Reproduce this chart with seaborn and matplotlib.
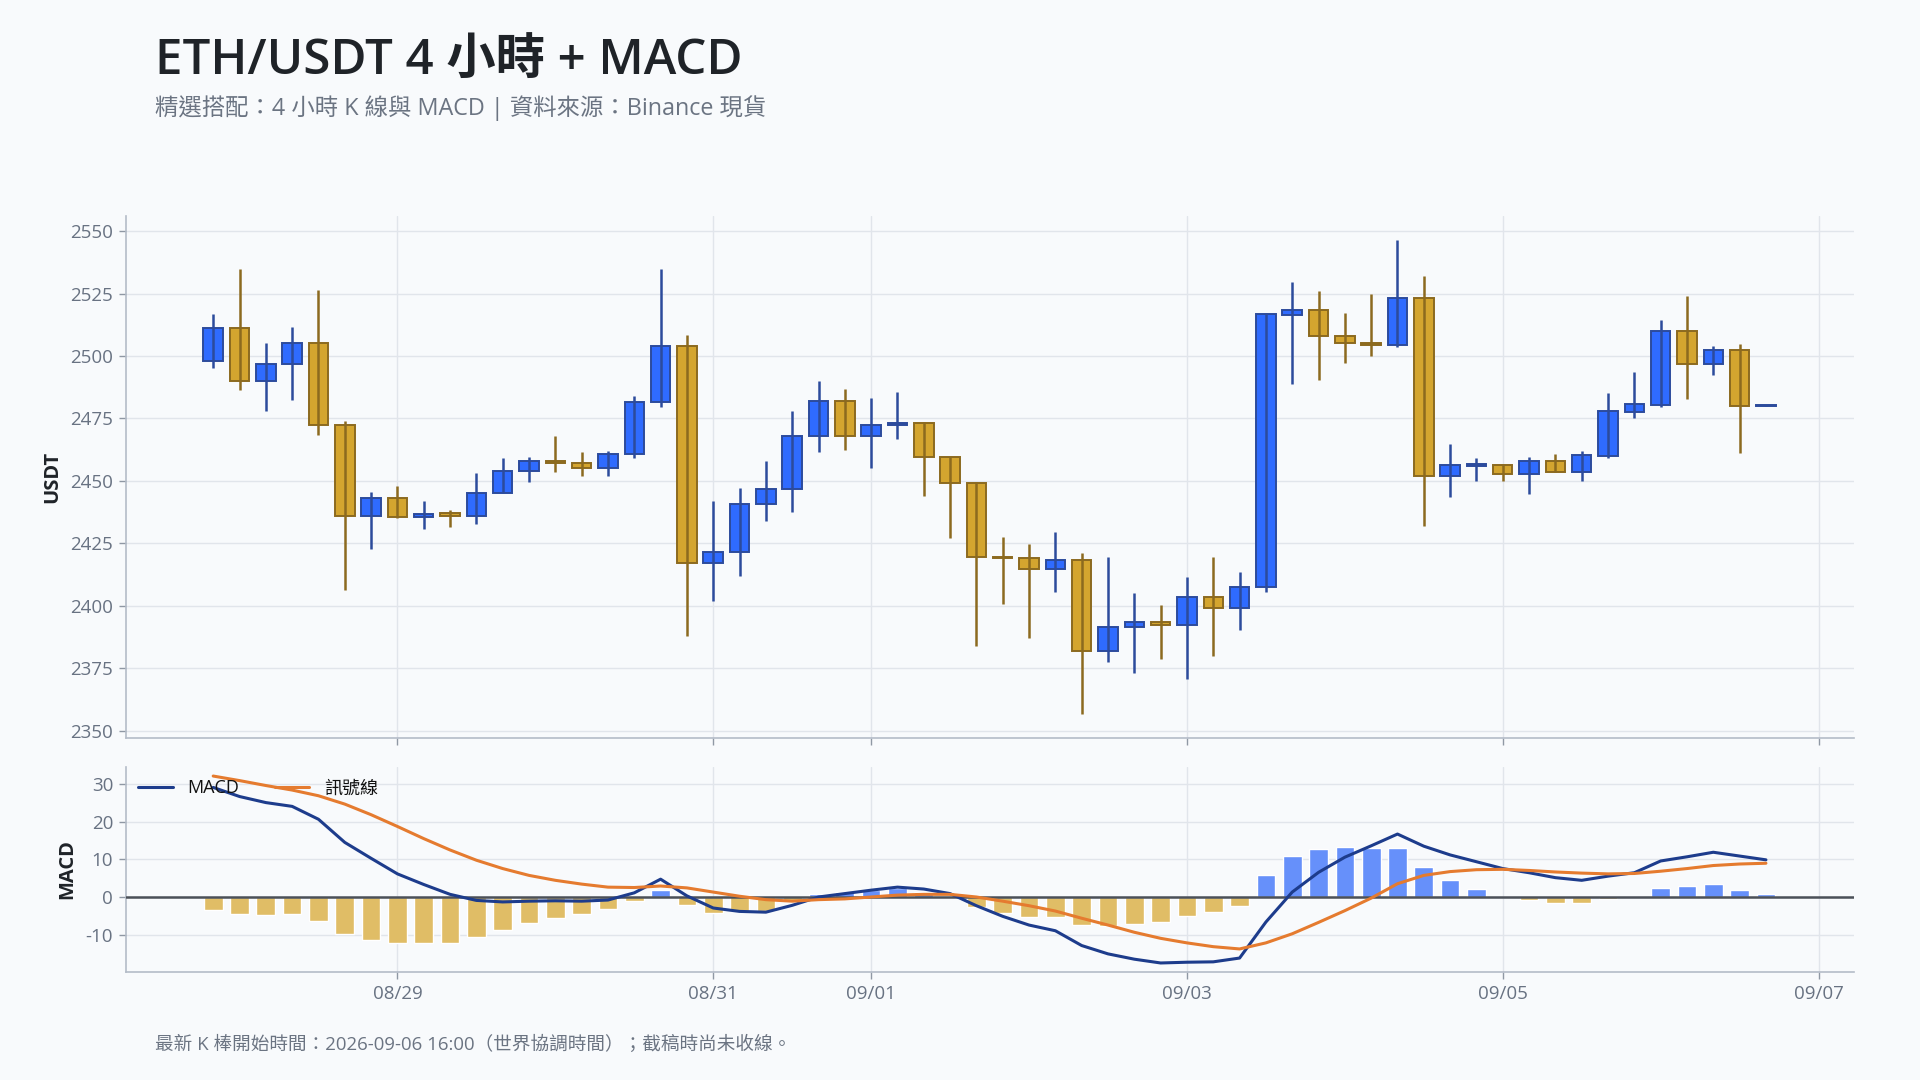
import matplotlib
matplotlib.use('Agg')
import matplotlib.pyplot as plt
import matplotlib.dates as mdates
import seaborn as sns
import pandas as pd

start = '2026-08-27 20:00'

opens = [2498.1, 2511.1, 2490.1, 2496.7, 2505.4, 2472.2, 2435.9, 2443.3, 2435.4, 2437.0,
         2436.1, 2445.1, 2453.9, 2457.9, 2457.3, 2455.3, 2460.7, 2481.4, 2504.0, 2417.0,
         2421.4, 2440.7, 2446.7, 2468.0, 2481.9, 2467.9, 2472.3, 2473.1, 2459.4, 2449.0,
         2419.6, 2419.1, 2414.6, 2418.3, 2382.0, 2391.4, 2393.4, 2392.1, 2403.6, 2399.0,
         2407.3, 2516.6, 2518.3, 2508.0, 2505.4, 2504.4, 2523.1, 2452.1, 2456.1, 2456.3,
         2452.6, 2457.9, 2453.7, 2460.0, 2477.7, 2480.4, 2509.9, 2496.9, 2502.3, 2480.0]
highs = [2516.9, 2535.0, 2505.4, 2511.7, 2526.6, 2474.1, 2445.4, 2448.1, 2442.1, 2438.4,
         2453.0, 2459.0, 2459.7, 2468.1, 2461.7, 2462.1, 2484.1, 2535.0, 2508.6, 2442.1,
         2447.0, 2458.1, 2478.1, 2490.1, 2487.0, 2483.0, 2485.7, 2473.7, 2459.6, 2449.7,
         2427.4, 2424.6, 2429.4, 2421.0, 2419.7, 2405.0, 2400.1, 2411.4, 2419.7, 2413.4,
         2517.4, 2529.7, 2526.1, 2517.4, 2525.0, 2546.6, 2532.1, 2464.6, 2459.0, 2456.3,
         2459.4, 2460.6, 2462.1, 2485.4, 2493.7, 2514.6, 2524.1, 2504.1, 2505.0, 2480.3]
lows = [2495.1, 2486.3, 2477.9, 2482.3, 2468.3, 2406.3, 2422.6, 2435.0, 2430.7, 2431.6,
        2432.6, 2445.0, 2449.6, 2453.6, 2451.9, 2452.1, 2459.0, 2479.6, 2387.9, 2401.9,
        2411.9, 2433.9, 2437.6, 2461.6, 2462.3, 2455.1, 2466.7, 2443.9, 2427.1, 2384.0,
        2400.7, 2387.1, 2405.3, 2356.7, 2377.6, 2373.1, 2378.6, 2370.7, 2379.9, 2390.3,
        2405.6, 2488.7, 2490.3, 2497.1, 2500.1, 2503.6, 2431.9, 2443.6, 2450.1, 2450.1,
        2444.7, 2453.7, 2450.1, 2459.1, 2475.1, 2479.6, 2482.7, 2492.3, 2461.1, 2479.9]
closes = [2511.1, 2490.1, 2496.7, 2505.4, 2472.2, 2435.9, 2443.3, 2435.4, 2436.9, 2436.1,
          2445.1, 2453.9, 2457.9, 2457.3, 2455.3, 2460.7, 2481.4, 2504.0, 2417.0, 2421.4,
          2440.7, 2446.7, 2468.0, 2481.9, 2467.9, 2472.3, 2473.1, 2459.4, 2449.0, 2419.4,
          2419.3, 2414.6, 2418.3, 2382.0, 2391.6, 2393.6, 2392.1, 2403.6, 2399.0, 2407.6,
          2516.9, 2518.3, 2507.9, 2505.4, 2504.6, 2523.1, 2452.1, 2456.3, 2456.9, 2452.6,
          2457.9, 2453.7, 2460.3, 2477.9, 2480.9, 2509.9, 2496.9, 2502.3, 2479.9, 2480.2]

macd = [29.0, 26.6, 25.0, 24.0, 20.6, 14.5, 10.3, 6.2, 3.4, 0.8,
        -0.8, -1.2, -1.0, -0.9, -1.0, -0.7, 1.2, 4.8, 0.4, -2.8,
        -3.7, -3.9, -2.1, 0.1, 1.0, 1.9, 2.7, 2.2, 1.0, -2.2,
        -5.0, -7.3, -8.8, -12.7, -14.9, -16.3, -17.3, -17.1, -17.0, -16.0,
        -6.5, 1.4, 6.6, 10.6, 13.6, 16.7, 13.5, 11.2, 9.4, 7.6,
        6.5, 5.2, 4.5, 5.6, 6.5, 9.6, 10.7, 11.9, 10.9, 9.9]
signal = [32.0, 30.8, 29.5, 28.3, 26.8, 24.6, 21.8, 18.7, 15.5, 12.5,
          9.8, 7.6, 5.8, 4.5, 3.5, 2.7, 2.6, 3.0, 2.5, 1.4,
          0.3, -0.6, -1.0, -0.6, -0.4, 0.1, 0.6, 0.8, 0.8, 0.1,
          -1.0, -2.2, -3.6, -5.5, -7.3, -9.2, -10.8, -12.0, -13.0, -13.6,
          -12.0, -9.6, -6.6, -3.5, -0.2, 3.6, 5.8, 6.8, 7.3, 7.4,
          7.1, 6.7, 6.4, 6.2, 6.3, 6.9, 7.6, 8.4, 8.8, 9.0]
hist = [-3.2, -4.4, -4.7, -4.4, -6.3, -9.7, -11.3, -12.1, -12.1, -11.9,
        -10.5, -8.7, -6.8, -5.5, -4.4, -3.1, -1.0, 1.9, -2.0, -4.2,
        -3.5, -3.6, -0.9, 0.8, 1.3, 1.9, 2.6, 1.4, 0.2, -2.6,
        -4.2, -5.2, -5.2, -7.3, -7.6, -7.1, -6.5, -5.0, -3.9, -2.3,
        5.8, 10.9, 12.7, 13.3, 13.0, 13.0, 8.0, 4.5, 2.1, 0.1,
        -0.7, -1.5, -1.5, -0.4, 0.1, 2.4, 2.9, 3.5, 1.9, 0.8]

tick_days = ['2026-08-29', '2026-08-31', '2026-09-01', '2026-09-03', '2026-09-05', '2026-09-07']

df = pd.DataFrame({'time': pd.date_range(start, periods=len(closes), freq='4h'),
                   'open': opens, 'high': highs, 'low': lows, 'close': closes,
                   'macd': macd, 'signal': signal, 'hist': hist})
df['x'] = mdates.date2num(df['time'])
df['up'] = df['close'] >= df['open']

bg = '#f8fafc'
grid_c = '#e1e5eb'
spine_c = '#b4bcc8'
label_c = '#687282'

sns.set_theme(style='whitegrid')
plt.rcParams['font.family'] = ['Open Sans', 'Noto Sans CJK TC', 'DejaVu Sans']
plt.rcParams['axes.unicode_minus'] = False

fig = plt.figure(figsize=(19.2, 10.8), dpi=100, facecolor=bg)
ax1 = fig.add_axes([0.0654, 0.3171, 0.9, 0.4829])
ax2 = fig.add_axes([0.0654, 0.0997, 0.9, 0.1904], sharex=ax1)

step = 1 / 6  # 4 小時
up_fill, up_edge = '#2f6bff', '#2c4b9c'
dn_fill, dn_edge = '#d4a52f', '#8c6a1f'
fills = [up_fill if u else dn_fill for u in df['up']]
edges = [up_edge if u else dn_edge for u in df['up']]

body_lo = df[['open', 'close']].min(axis=1)
body_h = (df['close'] - df['open']).abs()
ax1.bar(df['x'], body_h, bottom=body_lo, width=step * 0.74, color=fills,
        edgecolor=edges, linewidth=1.4, zorder=2)
ax1.vlines(df['x'], df['low'], df['high'], colors=edges, linewidth=1.8, zorder=3)

hist_c = ['#6690fa' if h >= 0 else '#e0bd66' for h in df['hist']]
ax2.bar(df['x'], df['hist'], width=step * 0.71, color=hist_c, zorder=2)
ax2.axhline(0, color='#4b5058', linewidth=1.8, zorder=3)
sns.lineplot(x=df['x'], y=df['macd'], ax=ax2, color='#1d3c8c', linewidth=2.2,
             label='MACD', zorder=4)
sns.lineplot(x=df['x'], y=df['signal'], ax=ax2, color='#e57b2f', linewidth=2.2,
             label='訊號線', zorder=4)

ax1.set_xlim(df['x'].iloc[0] - 0.555, df['x'].iloc[-1] + 0.555)
ax1.set_yticks(range(2350, 2551, 25))
ax2.set_yticks([-10, 0, 10, 20, 30])
ax2.set_xticks(mdates.date2num(pd.to_datetime(tick_days)))
ax2.xaxis.set_major_formatter(mdates.DateFormatter('%m/%d'))
plt.setp(ax1.get_xticklabels(), visible=False)

for ax in (ax1, ax2):
    ax.set_facecolor(bg)
    ax.grid(True, color=grid_c, linewidth=1.0)
    for s in ('top', 'right'):
        ax.spines[s].set_visible(False)
    for s in ('left', 'bottom'):
        ax.spines[s].set_color(spine_c)
        ax.spines[s].set_linewidth(1.2)
    ax.tick_params(axis='both', which='major', length=5, width=1, color='#8f98a4',
                   labelcolor=label_c, labelsize=13.5, pad=4, bottom=True, left=True)

ax1.set_xlabel('')
ax2.set_xlabel('')
ax1.set_ylabel('USDT', fontsize=14.5, fontweight='bold', color='#1f2328', labelpad=6)
ax2.set_ylabel('MACD', fontsize=14.5, fontweight='bold', color='#1f2328', labelpad=6)

ax2.legend(loc='upper left', ncol=2, frameon=False, fontsize=13, handlelength=1.9,
           handletextpad=0.8, columnspacing=2.0, borderaxespad=0.3,
           labelcolor='#111111', bbox_to_anchor=(0.0, 1.0))

fig.text(155 / 1920, 1 - 75 / 1080, 'ETH/USDT 4 小時 + MACD', fontsize=35.5,
         fontweight='semibold', color='#1f2328', va='baseline', ha='left')
fig.text(155 / 1920, 1 - 115 / 1080, '精選搭配：4 小時 K 線與 MACD | 資料來源：Binance 現貨',
         fontsize=16.8, color='#6b7482', va='baseline', ha='left')
fig.text(155 / 1920, 1 - 1050 / 1080,
         '最新 K 棒開始時間：2026-09-06 16:00（世界協調時間）；截稿時尚未收線。',
         fontsize=13.4, color='#6b7482', va='baseline', ha='left')

fig.savefig('out.png', dpi=100, facecolor=bg)
